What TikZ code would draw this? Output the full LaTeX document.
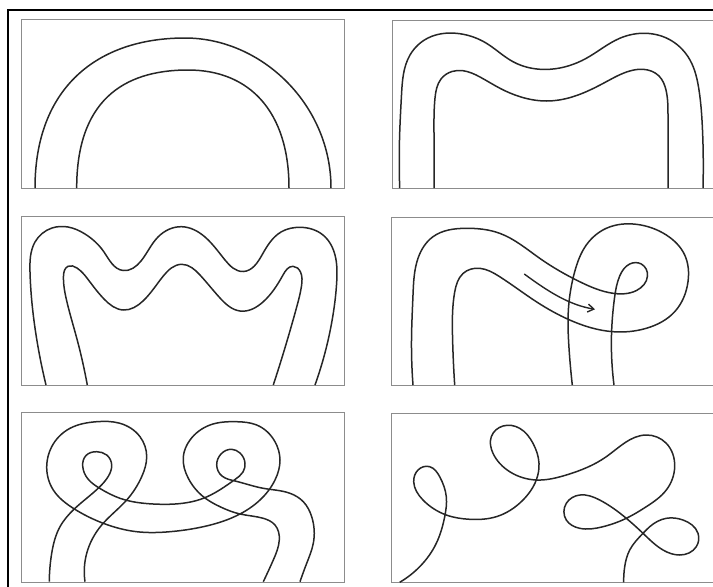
\documentclass[tikz,border=0pt]{standalone}
\usetikzlibrary{arrows.meta,hobby}
\begin{document}
\begin{tikzpicture}[x=1pt,y=-1pt,
  frame/.style={draw=black!45,line width=0.9pt},
  rope/.style={draw=black!85,line width=1.5pt,line join=round},
  hob/.style={rope,use Hobby shortcut},
  border/.style={draw=black,line width=1.4pt}]
\useasboundingbox (0,0) rectangle (713,587);
% outer border lines
\draw[border] (713,10) -- (8,10) -- (8,587);
% panel frames
\draw[frame] (21,19) rectangle (344,188);
\draw[frame] (392,20) rectangle (716,188);
\draw[frame] (21,216) rectangle (344,385);
\draw[frame] (391,217) rectangle (716,385);
\draw[frame] (21,412) rectangle (344,582);
\draw[frame] (391,413) rectangle (716,582);

% Panel 1: arch
\draw[rope] (35,188) .. controls (35,88) and (97,38) .. (185,38) .. controls (262,38) and (331,105) .. (331,188);
\draw[rope] (76.7,188) .. controls (76.7,102) and (122,70) .. (188,70) .. controls (250,70) and (289,112) .. (289,188);

% Panel 2: M shape
\draw[hob] (399.7,188) .. (399.7,133) .. (401.5,95) .. (410,55) .. (428,38) .. (456.3,33.3) .. (486,43) .. (513,61.7) .. (549.7,69.3) .. (586.3,58.3) .. (619.7,38.3) .. (646.3,33.3) .. (672,41) .. (690,60) .. (699,90) .. (702.5,130) .. (703,188);
\draw[hob] (434,188) .. (434,133) .. (435,98) .. (441,79) .. (452,71.5) .. (463,70.7) .. (480,77) .. (500,88.3) .. (520,96.7) .. (546.3,101) .. (573,96.7) .. (606.3,81.7) .. (629.7,71) .. (643,69.3) .. (659,76) .. (666,90) .. (668,115) .. (668,188);

% Panel 3: three waves
\draw[hob] (46,385) .. (35,328) .. (30,272) .. (35,242) .. (52,228) .. (68,227) .. (85,234) .. (104,252) .. (123,270.5) .. (141,261) .. (158,237) .. (181.7,226.7) .. (205,237) .. (225,260) .. (243.3,271.5) .. (262,255) .. (281,232) .. (300,227.3) .. (323,235) .. (335,255) .. (336.7,282) .. (333,315) .. (315,385);
\draw[hob] (87.3,385) .. (76.7,338) .. (66.5,300) .. (63.5,276) .. (68,266.3) .. (77,268) .. (90,282) .. (104,299) .. (123.3,310) .. (143,301) .. (163.3,276) .. (181.7,264.3) .. (200,275) .. (220,298) .. (240,311) .. (263.3,301.7) .. (283,275) .. (293,266.3) .. (300.5,272) .. (301.5,286) .. (296.7,307) .. (273.3,385);

% Panel 4: loop with arrow
\draw[hob] (413,385) .. (411.5,340) .. (413,295) .. (418,258.3) .. (433,236.7) .. (466.3,228.3) .. (499.7,233.3) .. (539.7,258.3) .. (579.7,281.7) .. (613,293.3) .. (636.5,290.5) .. (647.5,276) .. (641.3,264) .. (629.7,264) .. (619.7,276) .. (614.5,298) .. (611.5,335) .. (614,385);
\draw[hob] (454.7,385) .. (452.5,335) .. (454.7,292) .. (463,273.5) .. (479.7,268.3) .. (499.7,276.7) .. (536.3,301.7) .. (569.7,320) .. (613,331.7) .. (646.3,328.3) .. (674.7,311.7) .. (688,281.7) .. (684.7,255) .. (666.3,235) .. (636.3,224.3) .. (606.3,228.3) .. (586.3,245) .. (574.7,271.7) .. (568.5,308) .. (569,348) .. (572.3,385);
\coordinate (arrS) at (524.3,274);
\coordinate (arrE) at (595,309.3);
\draw[draw=black!85,line width=1.4pt,-{Straight Barb[length=6pt,width=8pt]}] (arrS) .. controls (550,293) and (570,305) .. (arrE);

% Panel 5: two double loops
\draw[hob] (49.3,581.7) .. (51.7,553.3) .. (60,526.7) .. (75,508.3) .. (99,487.5) .. (108.5,476) .. (111.7,465) .. (106.7,455) .. (96.7,451.7) .. (86,455.5) .. (82.7,466) .. (88,479) .. (100,488.5) .. (120,498.3) .. (153.3,504) .. (175,504) .. (203.3,498.3) .. (235,479.5) .. (243,472) .. (245,463) .. (240,453) .. (231.7,449.3) .. (221,454) .. (216.7,465) .. (222,476) .. (235,481) .. (263.3,488.3) .. (290,493.3) .. (303.3,501.7) .. (311.7,516.7) .. (313.3,543.3) .. (306.7,563.3) .. (300,581.7);
\draw[hob] (85,581.7) .. (86.7,553.3) .. (101.7,525) .. (126.7,500) .. (141.7,476.7) .. (146.7,456.7) .. (140,436.7) .. (120,423.3) .. (96.7,421.7) .. (70,428.3) .. (51.7,446.7) .. (46.7,466.7) .. (53.3,490) .. (73.3,508.3) .. (103.3,523.3) .. (136.7,531.7) .. (170,531.7) .. (203.3,526.7) .. (240,514) .. (260,500) .. (275,480) .. (280,460) .. (275,441.7) .. (256.7,425) .. (236.7,421.7) .. (210,425) .. (190,440) .. (183.3,456.7) .. (188.3,478.3) .. (203.3,496.7) .. (220,506.7) .. (240,514) .. (263.3,518.3) .. (275,525) .. (279.3,540) .. (273.3,560) .. (263.3,581.7);

% Panel 6: free curve with loops
\draw[hob] (399.7,582.3) .. (419.7,566.7) .. (436.3,543.3) .. (444.7,516.7) .. (446.3,496.7) .. (439.7,476.7) .. (429.7,466.7) .. (418,470) .. (413.7,481.7) .. (423,500) .. (446.3,515) .. (469.7,519.3) .. (496.3,516.7) .. (523,500) .. (536.3,480) .. (539,463.3) .. (533,443.3) .. (519.7,428.3) .. (503,426) .. (491.3,436.7) .. (493,453.3) .. (509.7,471.7) .. (536.3,480) .. (566.3,475) .. (606.3,456.7) .. (646.3,435) .. (666.3,443.3) .. (674.7,466.7) .. (666.3,490) .. (646.3,506.7) .. (626.3,518.3) .. (603,526.7) .. (579.7,528.3) .. (566.3,520) .. (566.3,503.3) .. (579.7,495) .. (599.7,500) .. (626.3,518.3) .. (643,533.3) .. (663,550) .. (679.7,555) .. (696.3,546.7) .. (698,533.3) .. (683,520) .. (666.3,518.3) .. (649.7,526.7) .. (643,533.3) .. (629.7,550) .. (624.7,566.7) .. (623.7,582.3);
\end{tikzpicture}
\end{document}
